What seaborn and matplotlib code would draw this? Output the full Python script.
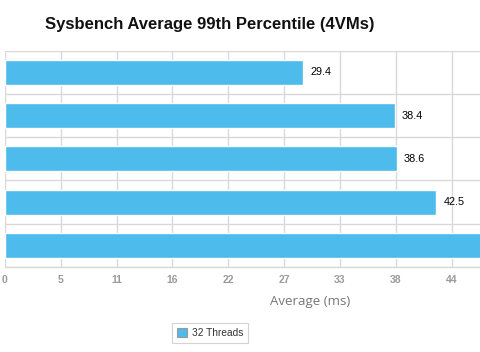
import matplotlib
matplotlib.use("Agg")
import matplotlib.pyplot as plt
import seaborn as sns
import pandas as pd
import numpy as np
from matplotlib.patches import Patch

categories = ["A", "B", "C", "D", "E"]
values = [29.4, 38.4, 38.6, 42.5, 50.0]
value_labels = ["29.4", "38.4", "38.6", "42.5", "50.0"]
tick_values = [0, 5.5, 11, 16.5, 22, 27.5, 33, 38.5, 44]
tick_labels = ["0", "5", "11", "16", "22", "27", "33", "38", "44"]
series_name = "32 Threads"
title = "Sysbench Average 99th Percentile (4VMs)"
xlabel = "Average (ms)"

BAR = "#4dbbeb"
GRID = "#d9d9d9"
XMAX = 46.8

sns.set_theme(style="white")
plt.rcParams['font.family'] = ['Liberation Sans', 'DejaVu Sans']

df = pd.DataFrame({"cat": categories, "val": values})

fig = plt.figure(figsize=(4.8, 3.52), dpi=100)
ax = fig.add_axes([5/480, 1-267/352, 1-5/480, (267-50.7)/352])

sns.barplot(data=df, x="val", y="cat", orient="h", color=BAR, width=0.58,
            saturation=1, ax=ax, zorder=3)

ax.set_xlim(0, XMAX)
ax.set_ylim(4.5, -0.5)

ax.set_xticks(tick_values)
ax.set_xticklabels(tick_labels)
ax.set_yticks([])
ax.set_yticks(np.arange(-0.5, 5, 1), minor=True)
ax.tick_params(axis="y", which="both", length=0, labelleft=False)
ax.tick_params(axis="x", length=0, pad=6, labelsize=7.5, labelcolor="#9a9a9a")
for t in ax.get_xticklabels():
    t.set_fontweight("bold")

ax.grid(axis="x", color=GRID, linewidth=1, zorder=0)
ax.grid(axis="y", which="minor", color=GRID, linewidth=1, zorder=0)
ax.set_axisbelow(True)
for s in ["top", "right", "left"]:
    ax.spines[s].set_visible(False)
ax.spines["bottom"].set_color(GRID)
ax.spines["bottom"].set_linewidth(1)

for i, (v, lab) in enumerate(zip(values, value_labels)):
    if v + 4 < XMAX:
        ax.text(v + 0.7, i, lab, va="center", ha="left", fontsize=7.8,
                color="#000000")

ax.set_ylabel("")
ax.set_xlabel("")
fig.text(310/480, 1-301/352, xlabel, ha="center", va="center", fontsize=9.5,
         color="#777777", family=["Open Sans", "DejaVu Sans"])

fig.text(45/480, 1-25/352, title, ha="left", va="center", fontsize=12,
         fontweight="bold", color="#111111")

handles = [Patch(facecolor=BAR, edgecolor="#9a9a9a", linewidth=0.8)]
leg = fig.legend(handles, [series_name], loc="center", bbox_to_anchor=(210/480, 1-333/352),
                 frameon=True, fontsize=7.3, handlelength=1.0, handleheight=1.0,
                 handletextpad=0.5, borderpad=0.45, fancybox=False)
leg.get_frame().set_edgecolor("#c8c8c8")
leg.get_frame().set_linewidth(0.8)
for t in leg.get_texts():
    t.set_color("#333333")

fig.savefig("out.png", dpi=100)
